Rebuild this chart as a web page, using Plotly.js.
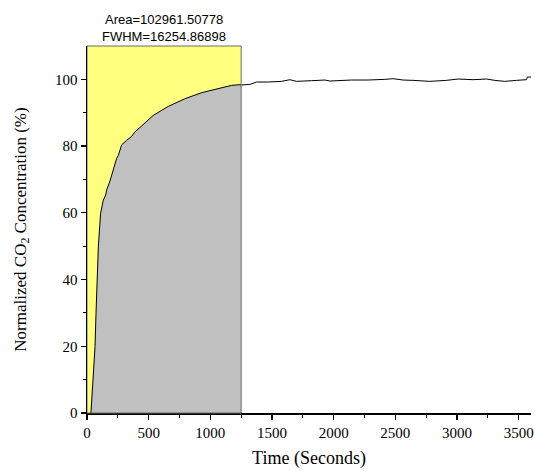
<!DOCTYPE html>
<html>
<head>
<meta charset="utf-8">
<script src="https://cdn.plot.ly/plotly-3.0.1.min.js"></script>
<style>html,body{margin:0;padding:0;background:#fff;}#chart{width:535px;height:471px;}</style>
</head>
<body>
<div id="chart"></div>
<script>
// Time (seconds)
const timeSec = [32, 51, 65, 73, 81, 92, 110, 132, 151, 159, 186, 213, 240, 254, 272, 281, 321, 361, 388, 456, 537, 659, 794, 929, 1064, 1172, 1240, 1250,
  1321, 1375, 1469, 1577, 1645, 1699, 1820, 1929, 1969, 2145, 2279, 2374, 2415, 2482, 2563, 2644, 2780, 2914, 3009, 3130, 3239, 3306, 3387, 3482, 3563, 3571, 3603];
// Normalized CO2 concentration (%)
const co2Pct = [0, 9.9, 19.9, 29.9, 39.8, 49.8, 59.8, 63.8, 65.3, 66.8, 69.5, 73.3, 76.3, 77.2, 79.7, 80.4, 81.7, 82.9, 84.2, 86.4, 89.2, 91.9, 94.2, 96.0, 97.2, 98.2, 98.4, 98.3,
  98.5, 99.2, 99.2, 99.4, 99.9, 99.4, 99.6, 99.8, 99.5, 99.8, 99.8, 99.8, 100.0, 100.2, 99.8, 99.7, 99.4, 99.7, 100.1, 99.9, 100.1, 99.7, 99.4, 99.7, 99.9, 100.7, 100.7];
// Integration window
const windowStart = 0;
const windowEnd = 1250;
const annotationLines = ["Area=102961.50778", "FWHM=16254.86898"];

const fillT = [], fillY = [];
timeSec.forEach((t, i) => { if (t <= windowEnd) { fillT.push(t); fillY.push(co2Pct[i]); } });

const serif = "'Liberation Serif', 'Times New Roman', serif";
const sans = "'Liberation Sans', Arial, sans-serif";

const traces = [
  { x: fillT, y: fillY, type: 'scatter', mode: 'lines', fill: 'tozeroy', fillcolor: '#c0c0c0',
    line: { color: 'rgba(0,0,0,0)', width: 0 }, hoverinfo: 'skip', showlegend: false },
  { x: timeSec, y: co2Pct, type: 'scatter', mode: 'lines', line: { color: '#000', width: 1 }, showlegend: false }
];

const layout = {
  width: 535, height: 471,
  margin: { l: 87, r: 4, t: 46, b: 58 },
  paper_bgcolor: '#fff', plot_bgcolor: '#fff',
  showlegend: false,
  xaxis: {
    range: [0, 3600], tickvals: [0, 500, 1000, 1500, 2000, 2500, 3000, 3500],
    ticks: 'outside', ticklen: 5, tickwidth: 1.2, tickcolor: '#000',
    minor: { tickvals: [250, 750, 1250, 1750, 2250, 2750, 3250], ticks: 'outside', ticklen: 3, tickwidth: 1, tickcolor: '#000', showgrid: false },
    showline: true, linecolor: '#000', linewidth: 1.5, showgrid: false, zeroline: false,
    tickfont: { family: serif, size: 15, color: '#000' },
    title: { text: 'Time (Seconds)', font: { family: serif, size: 18, color: '#000' }, standoff: 12 }
  },
  yaxis: {
    range: [0, 110], tickvals: [0, 20, 40, 60, 80, 100],
    ticks: 'outside', ticklen: 5, tickwidth: 1.2, tickcolor: '#000',
    minor: { tickvals: [10, 30, 50, 70, 90], ticks: 'outside', ticklen: 3, tickwidth: 1, tickcolor: '#000', showgrid: false },
    showline: true, linecolor: '#000', linewidth: 1.5, showgrid: false, zeroline: false,
    tickfont: { family: serif, size: 15, color: '#000' },
    title: { text: 'Normalized CO<sub>2</sub> Concentration (%)', font: { family: serif, size: 17, color: '#000' }, standoff: 24 }
  },
  shapes: [
    { type: 'rect', xref: 'x', yref: 'paper', x0: windowStart, x1: windowEnd, y0: 0, y1: 1,
      fillcolor: '#ffff80', line: { width: 0 }, layer: 'below' },
    { type: 'rect', xref: 'x', yref: 'paper', x0: windowStart, x1: windowEnd, y0: 0, y1: 1,
      fillcolor: 'rgba(0,0,0,0)', line: { color: '#6b6b6b', width: 1 }, layer: 'above' }
  ],
  annotations: [
    { text: annotationLines[0], xref: 'x', yref: 'paper', x: (windowStart + windowEnd) / 2, y: 1.071, yanchor: 'middle', xanchor: 'center',
      showarrow: false, font: { family: sans, size: 13, color: '#000' } },
    { text: annotationLines[1], xref: 'x', yref: 'paper', x: (windowStart + windowEnd) / 2, y: 1.025, yanchor: 'middle', xanchor: 'center',
      showarrow: false, font: { family: sans, size: 13, color: '#000' } }
  ]
};

Plotly.newPlot('chart', traces, layout, { staticPlot: true, displayModeBar: false });
</script>
</body>
</html>
